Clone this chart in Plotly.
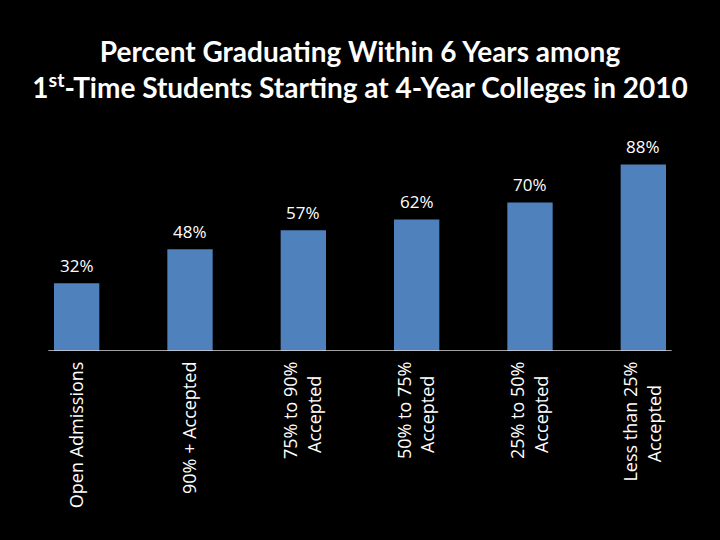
import plotly.graph_objects as go

categories = ["Open Admissions", "90% + Accepted", "75% to 90%<br>Accepted",
              "50% to 75%<br>Accepted", "25% to 50%<br>Accepted", "Less than 25%<br>Accepted"]
values = [0.32, 0.48, 0.57, 0.62, 0.70, 0.88]
labels = ["32%", "48%", "57%", "62%", "70%", "88%"]


def centered(label):
    # pad shorter lines with non-breaking spaces so wrapped rotated lines look centred
    parts = label.split("<br>")
    if len(parts) < 2:
        return label
    longest = max(len(p) for p in parts)
    out = []
    for p in parts:
        d = longest - len(p)
        n = d + 1 if 0 < d < 4 else d
        out.append(p + "\u00a0" * n)
    return "<br>".join(out)


fig = go.Figure()
fig.add_trace(go.Bar(x=list(range(len(categories))), y=values, width=0.4,
                     marker=dict(color="#4F81BD", line=dict(width=0)),
                     hoverinfo="skip"))

for i, (v, t) in enumerate(zip(values, labels)):
    fig.add_annotation(x=i, y=v, text=t, showarrow=False, yanchor="middle", yshift=18,
                       font=dict(family="Open Sans", size=17, color="white"))

fig.add_shape(type="line", xref="x", yref="y", x0=-0.25, x1=5.25, y0=0, y1=0,
              line=dict(color="#D9D9D9", width=1.5))

fig.update_layout(
    width=720, height=540,
    paper_bgcolor="black", plot_bgcolor="black",
    margin=dict(l=20, r=20, t=139, b=189),
    showlegend=False,
    title=dict(text="Percent Graduating Within 6 Years among<br>1<sup>st</sup>-Time Students Starting at 4-Year Colleges in 2010",
               x=0.5, xanchor="center", y=1 - 62 / 540, yanchor="middle", yref="container",
               font=dict(family="Lato", size=28, color="white", weight="bold")),
    xaxis=dict(range=[-0.5, 5.5], tickmode="array", tickvals=list(range(len(categories))),
               ticktext=[centered(c) for c in categories], tickangle=-90, showgrid=False,
               zeroline=False, showline=False, ticks="", ticklabelstandoff=6,
               tickfont=dict(family="Open Sans", size=18, color="white")),
    yaxis=dict(range=[0, 1], visible=False, showgrid=False, zeroline=False),
)

fig.write_html("out.html", config={"displayModeBar": False},
               post_script="document.body.style.margin='0';document.body.style.background='black';")
